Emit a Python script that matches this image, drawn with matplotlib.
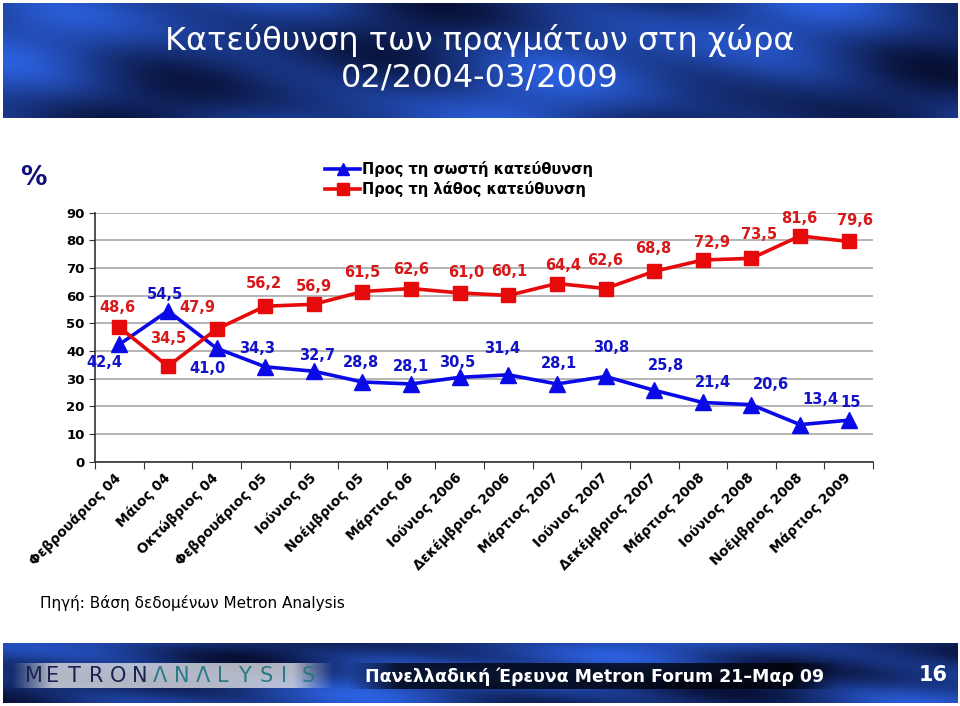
import numpy as np
import matplotlib.pyplot as plt

# Δεδομένα
months = ['Φεβρουάριος 04', 'Μάιος 04', 'Οκτώβριος 04', 'Φεβρουάριος 05',
          'Ιούνιος 05', 'Νοέμβριος 05', 'Μάρτιος 06', 'Ιούνιος 2006',
          'Δεκέμβριος 2006', 'Μάρτιος 2007', 'Ιούνιος 2007', 'Δεκέμβριος 2007',
          'Μάρτιος 2008', 'Ιούνιος 2008', 'Νοέμβριος 2008', 'Μάρτιος 2009']
right_dir = [42.4, 54.5, 41.0, 34.3, 32.7, 28.8, 28.1, 30.5,
             31.4, 28.1, 30.8, 25.8, 21.4, 20.6, 13.4, 15]
wrong_dir = [48.6, 34.5, 47.9, 56.2, 56.9, 61.5, 62.6, 61.0,
             60.1, 64.4, 62.6, 68.8, 72.9, 73.5, 81.6, 79.6]
yticks = [0, 10, 20, 30, 40, 50, 60, 70, 80, 90]

# μετατοπίσεις ετικετών (pixels)
blue_off = [(-15, -18), (-3, 16), (-9, -20), (-8, 18), (3, 16), (-1, 20), (0, 17), (-3, 15),
            (-6, 26), (2, 20), (6, 29), (12, 25), (10, 20), (20, 20), (20, 25), (2, 18)]
red_off = [(-2, 20), (0, 28), (-19, 22), (-1, 23), (0, 18), (0, 19), (0, 19), (7, 20),
           (1, 24), (6, 18), (0, 28), (-1, 23), (9, 18), (8, 24), (-1, 17), (6, 21)]

BLUE = '#0a0ae6'
RED = '#e60a0a'


def fmt(v):
    if v == 15:
        return '15'
    return f'{v:.1f}'.replace('.', ',')


def blue_band(w, h, phase):
    """Μπλε θολό φόντο για τις ταινίες επάνω/κάτω."""
    x, y = np.meshgrid(np.linspace(0, 1, w), np.linspace(0, 1, h))
    v = (0.5 + 0.25 * np.sin(9 * (x + 0.35 * y) + phase)
         + 0.2 * np.sin(23 * (x - 0.2 * y) + 2 * phase) * np.cos(5 * y + phase))
    v = np.clip(v, 0, 1)
    dark = np.array([0.02, 0.04, 0.16])
    light = np.array([0.18, 0.40, 0.92])
    return dark + v[..., None] * (light - dark)


fig = plt.figure(figsize=(9.6, 7.06), dpi=100)
fig.patch.set_facecolor('white')

# επάνω ταινία με τίτλο
hax = fig.add_axes([3 / 960, 1 - 118 / 706, 954 / 960, 115 / 706])
hax.imshow(blue_band(300, 40, 0.3), aspect='auto', extent=[0, 1, 0, 1])
hax.set_xlim(0, 1)
hax.set_ylim(0, 1)
hax.axis('off')
hax.text(0.5, 0.67, 'Κατεύθυνση των πραγμάτων στη χώρα', color='white', fontsize=23,
         ha='center', va='center')
hax.text(0.5, 0.35, '02/2004-03/2009', color='white', fontsize=23,
         ha='center', va='center')

# κάτω ταινία
fax = fig.add_axes([3 / 960, 3 / 706, 954 / 960, 60 / 706])
fax.imshow(blue_band(300, 20, 1.7), aspect='auto', extent=[0, 954, 0, 60])
gx = np.linspace(0, 1, 200)
glow = np.zeros((1, 200, 4))
glow[..., :3] = 0.92
glow[0, :, 3] = 0.75 * np.clip(np.minimum(gx * 8, (1 - gx) * 8), 0, 1)
fax.imshow(glow, aspect='auto', extent=[8, 330, 15, 40])
shade = np.zeros((1, 200, 4))
shade[0, :, 3] = 0.75 * np.clip(np.minimum(gx * 10, (1 - gx) * 10), 0, 1)
fax.imshow(shade, aspect='auto', extent=[345, 835, 14, 40])
fax.set_xlim(0, 954)
fax.set_ylim(0, 60)
fax.axis('off')
logo = 'METRONΛNΛLYSIS'
for i, ch in enumerate(logo):
    fax.text(22 + i * 21.3, 27, ch, color='#1a2250' if i < 6 else '#2a7b86',
             fontsize=15, ha='left', va='center')
fax.text(362, 26, 'Πανελλαδική Έρευνα Metron Forum 21–Μαρ 09', color='white',
         fontsize=12.5, fontweight='bold', ha='left', va='center')
fax.text(930, 28, '16', color='white', fontsize=15, fontweight='bold',
         ha='center', va='center')

# κύριο γράφημα
ax = fig.add_axes([95 / 960, 1 - 461.7 / 706, 778 / 960, 249 / 706])
x = np.arange(len(months))
ax.plot(x, right_dir, color=BLUE, lw=2.6, marker='^', ms=12, zorder=3,
        label='Προς τη σωστή κατεύθυνση')
ax.plot(x, wrong_dir, color=RED, lw=2.6, marker='s', ms=10, zorder=3,
        label='Προς τη λάθος κατεύθυνση')

for i, v in enumerate(right_dir):
    ax.annotate(fmt(v), (x[i], v), xytext=blue_off[i], textcoords='offset pixels',
                ha='center', va='center', color='#1212c8', fontsize=10.5, fontweight='bold')
for i, v in enumerate(wrong_dir):
    ax.annotate(fmt(v), (x[i], v), xytext=red_off[i], textcoords='offset pixels',
                ha='center', va='center', color='#d81818', fontsize=10.5, fontweight='bold')

ax.set_xlim(-0.5, len(months) - 0.5)
ax.set_ylim(0, 90)
ax.set_yticks(yticks)
ax.grid(axis='y', color='#a8a8a8', lw=1.2)
ax.set_axisbelow(True)
for s in ['top', 'right']:
    ax.spines[s].set_visible(False)
for s in ['left', 'bottom']:
    ax.spines[s].set_color('#333333')
    ax.spines[s].set_linewidth(1.2)
ax.set_xticks(np.arange(-0.5, len(months)), labels=[])
ax.set_xticks(x, labels=months, minor=True)
ax.tick_params(axis='x', which='major', length=5, direction='out', color='#333333')
ax.tick_params(axis='x', which='minor', length=0, pad=10)
ax.tick_params(axis='y', length=4, color='#333333', labelsize=9.5)
for lab in ax.get_xticklabels(minor=True):
    lab.set_rotation(45)
    lab.set_ha('right')
    lab.set_va('center')
    lab.set_rotation_mode('anchor')
    lab.set_fontweight('bold')
    lab.set_fontsize(9.8)
for lab in ax.get_yticklabels():
    lab.set_fontweight('bold')

leg = ax.legend(loc='upper left', bbox_to_anchor=(318 / 960, 1 - 154 / 706),
                bbox_transform=fig.transFigure, frameon=False, handlelength=2.4,
                handletextpad=0.1, labelspacing=0.25, borderpad=0,
                prop={'weight': 'bold', 'size': 10.5})
for h in leg.legend_handles:
    h.set_markersize(8)

fig.text(33 / 960, 1 - 178 / 706, '%', color='#10107a', fontsize=19, fontweight='bold',
         ha='center', va='center')
fig.text(40 / 960, 1 - 603 / 706, 'Πηγή: Βάση δεδομένων Metron Analysis', fontsize=11,
         ha='left', va='center')

fig.savefig('out.png', dpi=100)
